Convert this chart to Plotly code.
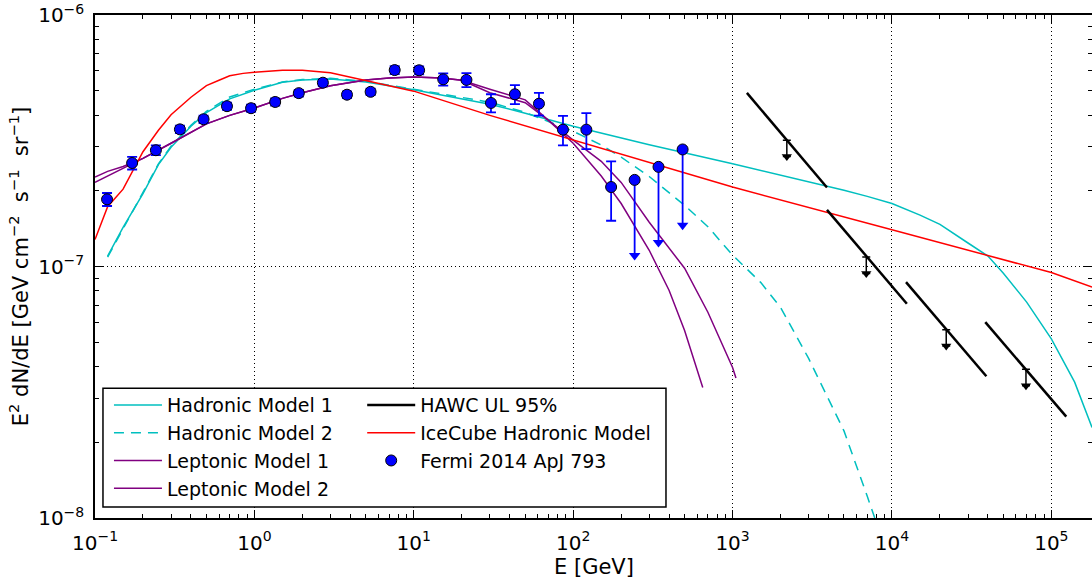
import plotly.graph_objects as go

# ---------------- data ----------------
fermi_E = [0.119, 0.171, 0.241, 0.341, 0.480, 0.673, 0.953, 1.35, 1.90, 2.69, 3.81,
           5.36, 7.59, 10.8, 15.3, 21.4, 30.5, 43.1, 61.0, 86.3, 121, 173]
fermi_F = [1.85e-7, 2.58e-7, 2.90e-7, 3.51e-7, 3.85e-7, 4.34e-7, 4.26e-7, 4.51e-7,
           4.89e-7, 5.38e-7, 4.82e-7, 4.95e-7, 6.04e-7, 6.03e-7, 5.55e-7, 5.52e-7,
           4.47e-7, 4.84e-7, 4.44e-7, 3.50e-7, 3.50e-7, 2.07e-7]
fermi_err = [0.11e-7, 0.15e-7, 0.13e-7, 0.12e-7, 0.13e-7, 0.14e-7, 0.14e-7, 0.15e-7,
             0.15e-7, 0.16e-7, 0.15e-7, 0.15e-7, 0.22e-7, 0.22e-7, 0.31e-7, 0.35e-7,
             0.37e-7, 0.42e-7, 0.46e-7, 0.47e-7, 0.57e-7, 0.55e-7]
fermi_ul_E = [243, 343, 486]
fermi_ul_F = [2.21e-7, 2.49e-7, 2.92e-7]

hawc_E = [2190, 6900, 21900, 69300]
hawc_F = [3.18e-7, 1.09e-7, 5.61e-8, 3.90e-8]
hawc_seg_E_start = [1230, 3910, 12250, 38500]
hawc_seg_E_end = [3910, 12400, 39100, 124000]
hawc_seg_F_start = [4.90e-7, 1.68e-7, 8.67e-8, 6.01e-8]
hawc_seg_F_end = [2.06e-7, 7.11e-8, 3.66e-8, 2.53e-8]

icecube_E = [0.1, 0.11, 0.12, 0.15, 0.2, 0.25, 0.3, 0.4, 0.5, 0.6, 0.7, 0.85, 1, 1.5,
             2, 3, 5, 10, 30, 100, 300, 1000, 1e4, 1e5, 1.8e5]
icecube_F = [1.28e-7, 1.50e-7, 1.73e-7, 2.03e-7, 2.86e-7, 3.48e-7, 4.01e-7, 4.71e-7,
             5.24e-7, 5.50e-7, 5.73e-7, 5.86e-7, 5.92e-7, 6.03e-7, 6.03e-7, 5.89e-7,
             5.50e-7, 4.98e-7, 3.99e-7, 3.18e-7, 2.60e-7, 2.07e-7, 1.40e-7, 9.46e-8,
             8.28e-8]

had1_E = [0.12, 0.15, 0.2, 0.25, 0.3, 0.4, 0.5, 0.7, 1, 1.5, 2, 3, 5, 10, 30, 50, 100,
          300, 1000, 2000, 3000, 5000, 7000, 1e4, 1.5e4, 2e4, 3e4, 4e4, 5e4, 7e4, 1e5,
          1.4e5, 1.8e5]
had1_F = [1.10e-7, 1.43e-7, 1.95e-7, 2.54e-7, 2.98e-7, 3.61e-7, 4.09e-7, 4.64e-7,
          5.02e-7, 5.40e-7, 5.52e-7, 5.57e-7, 5.42e-7, 5.04e-7, 4.42e-7, 4.07e-7,
          3.61e-7, 3.05e-7, 2.56e-7, 2.31e-7, 2.16e-7, 2.01e-7, 1.90e-7, 1.78e-7,
          1.60e-7, 1.47e-7, 1.24e-7, 1.10e-7, 9.40e-8, 7.22e-8, 5.16e-8, 3.47e-8,
          2.29e-8]

had2_E = [0.12, 0.15, 0.2, 0.25, 0.3, 0.4, 0.5, 0.7, 1, 1.5, 2, 3, 5, 10, 30, 50, 100,
          150, 200, 300, 500, 700, 1000, 1500, 2000, 3000, 5000, 7000, 7800]
had2_F = [1.09e-7, 1.42e-7, 1.97e-7, 2.56e-7, 3.01e-7, 3.64e-7, 4.14e-7, 4.72e-7,
          5.07e-7, 5.42e-7, 5.54e-7, 5.60e-7, 5.45e-7, 5.07e-7, 4.50e-7, 4.10e-7,
          3.45e-7, 3.04e-7, 2.72e-7, 2.28e-7, 1.75e-7, 1.44e-7, 1.11e-7, 8.65e-8,
          6.88e-8, 4.31e-8, 2.22e-8, 1.22e-8, 1.0e-8]

lep1_E = [0.1, 0.12, 0.15, 0.2, 0.3, 0.5, 0.7, 1, 1.5, 2, 3, 5, 7, 10, 15, 20, 30, 50,
          70, 100, 150, 200, 300, 500, 700, 1000, 1050]
lep1_F = [2.27e-7, 2.39e-7, 2.50e-7, 2.69e-7, 3.09e-7, 3.69e-7, 3.99e-7, 4.27e-7,
          4.66e-7, 4.91e-7, 5.23e-7, 5.52e-7, 5.62e-7, 5.67e-7, 5.62e-7, 5.50e-7,
          5.07e-7, 4.60e-7, 3.81e-7, 3.18e-7, 2.62e-7, 2.16e-7, 1.50e-7, 9.84e-8,
          6.58e-8, 3.97e-8, 3.60e-8]

lep2_E = [0.1, 0.12, 0.15, 0.2, 0.3, 0.5, 0.7, 1, 1.5, 2, 3, 5, 7, 10, 15, 20, 30, 50,
          70, 100, 150, 200, 300, 400, 500, 650]
lep2_F = [2.16e-7, 2.29e-7, 2.46e-7, 2.69e-7, 3.09e-7, 3.69e-7, 3.99e-7, 4.27e-7,
          4.66e-7, 4.91e-7, 5.23e-7, 5.52e-7, 5.62e-7, 5.67e-7, 5.62e-7, 5.50e-7,
          4.91e-7, 4.48e-7, 3.81e-7, 3.09e-7, 2.29e-7, 1.78e-7, 1.16e-7, 8.03e-8,
          5.57e-8, 3.30e-8]

x_tick_vals = [0.1, 1, 10, 100, 1000, 1e4, 1e5]
x_tick_text = ["10<sup>−1</sup>", "10<sup>0</sup>", "10<sup>1</sup>", "10<sup>2</sup>",
               "10<sup>3</sup>", "10<sup>4</sup>", "10<sup>5</sup>"]
y_tick_vals = [1e-8, 1e-7, 1e-6]
y_tick_text = ["10<sup>−8</sup>", "10<sup>−7</sup>", "10<sup>−6</sup>"]

# ---------------- styling ----------------
CYAN = "#00bfbf"
PURPLE = "#800080"
RED = "#ff0000"
BLUE = "#0000ff"
FONT = "DejaVu Sans"
UL_FERMI_FACTOR = 0.5     # arrow length of Fermi upper limits
UL_HAWC_FACTOR = 0.86     # arrow length of HAWC upper limits

fig = go.Figure()

def line_trace(x, y, name, color, dash="solid", legend="legend", width=1.5, rank=1):
    return go.Scatter(x=x, y=y, mode="lines", name=name, legend=legend,
                      legendgroup=name, legendrank=rank,
                      line=dict(color=color, width=width, dash=dash))

fig.add_trace(line_trace(had1_E, had1_F, "Hadronic Model 1", CYAN, rank=1))
fig.add_trace(line_trace(had2_E, had2_F, "Hadronic Model 2", CYAN, dash="10px,7px", rank=2))
fig.add_trace(line_trace(lep1_E, lep1_F, "Leptonic Model 1", PURPLE, rank=3))
fig.add_trace(line_trace(lep2_E, lep2_F, "Leptonic Model 2", PURPLE, rank=4))
fig.add_trace(line_trace(icecube_E, icecube_F, "IceCube Hadronic Model", RED,
                         legend="legend2", rank=2))

# HAWC segments
hx, hy = [], []
for xs, xe, ys, ye in zip(hawc_seg_E_start, hawc_seg_E_end, hawc_seg_F_start, hawc_seg_F_end):
    hx += [xs, xe, None]
    hy += [ys, ye, None]
fig.add_trace(go.Scatter(x=hx, y=hy, mode="lines", name="HAWC UL 95%", legend="legend2",
                         legendgroup="HAWC", legendrank=1,
                         line=dict(color="black", width=2.5)))
# HAWC upper-limit arrows
fig.add_trace(go.Scatter(
    x=hawc_E, y=hawc_F, mode="markers", showlegend=False, legend="legend2",
    marker=dict(size=1, color="black", opacity=0),
    error_y=dict(type="data", symmetric=False, array=[0] * len(hawc_F),
                 arrayminus=[f * (1 - UL_HAWC_FACTOR) for f in hawc_F],
                 color="black", thickness=1.5, width=4)))
fig.add_trace(go.Scatter(
    x=hawc_E, y=[f * UL_HAWC_FACTOR for f in hawc_F], mode="markers", showlegend=False,
    legend="legend2",
    marker=dict(symbol="triangle-down", size=9, color="black", line=dict(width=0))))

# Fermi upper limits
fig.add_trace(go.Scatter(
    x=fermi_ul_E, y=fermi_ul_F, mode="markers", showlegend=False, legend="legend2",
    marker=dict(size=11, color=BLUE, line=dict(color="black", width=1)),
    error_y=dict(type="data", symmetric=False, array=[0] * len(fermi_ul_F),
                 arrayminus=[f * (1 - UL_FERMI_FACTOR) for f in fermi_ul_F],
                 color=BLUE, thickness=1.8, width=0)))
fig.add_trace(go.Scatter(
    x=fermi_ul_E, y=[f * UL_FERMI_FACTOR for f in fermi_ul_F], mode="markers",
    showlegend=False, legend="legend2",
    marker=dict(symbol="triangle-down", size=10, color=BLUE, line=dict(width=0))))

# Fermi points
fig.add_trace(go.Scatter(
    x=fermi_E, y=fermi_F, mode="markers", name="Fermi 2014 ApJ 793", legend="legend2",
    legendgroup="Fermi", legendrank=3,
    marker=dict(size=11, color=BLUE, line=dict(color="black", width=1)),
    error_y=dict(type="data", array=fermi_err, color=BLUE, thickness=1.8, width=5)))

x_minor = [m * 10 ** d for d in range(-1, 6) for m in range(2, 10)]
y_minor = [m * 10 ** d for d in range(-8, -6) for m in range(2, 10)]

axis_common = dict(
    type="log", showline=True, linecolor="black", linewidth=1.5, mirror="allticks",
    ticks="inside", ticklen=8, tickwidth=1, tickcolor="black",
    showgrid=True, gridcolor="black", gridwidth=1, griddash="1px,3px",
    zeroline=False, tickfont=dict(family=FONT, size=20, color="black"),
    tickmode="array",
)

fig.update_xaxes(
    **axis_common, range=[-1, 5.255], tickvals=x_tick_vals, ticktext=x_tick_text,
    ticklabelstandoff=6,
    minor=dict(tickmode="array", tickvals=x_minor, ticks="inside", ticklen=4,
               tickcolor="black", tickwidth=1, showgrid=False),
)
fig.update_yaxes(
    **axis_common, range=[-8, -6], tickvals=y_tick_vals, ticktext=y_tick_text,
    ticklabelstandoff=5,
    minor=dict(tickmode="array", tickvals=y_minor, ticks="inside", ticklen=4,
               tickcolor="black", tickwidth=1, showgrid=False),
    title=dict(text="E<sup>2</sup>\u00a0dN/dE\u00a0[GeV\u00a0cm<sup>−2</sup>\u00a0\u00a0s<sup>−1</sup>\u00a0\u00a0sr<sup>−1</sup>]",
               font=dict(family=FONT, size=21, color="black"), standoff=4),
)

# x-axis title placed as an annotation for exact vertical position
fig.add_annotation(text="E [GeV]", xref="paper", yref="paper", x=0.5, y=-0.097,
                   xanchor="center", yanchor="middle", showarrow=False,
                   font=dict(family=FONT, size=21, color="black"))

legend_common = dict(
    bgcolor="rgba(0,0,0,0)", borderwidth=0, font=dict(family=FONT, size=19, color="black"),
    xanchor="left", yanchor="top", tracegroupgap=0, orientation="v", itemwidth=48,
)
fig.update_layout(
    legend=dict(**legend_common, x=0.014, y=0.262),
    legend2=dict(**legend_common, x=0.268, y=0.262),
)

# legend frame (white box with black border)
fig.add_shape(type="rect", xref="paper", yref="paper", x0=0.008, x1=0.5727,
              y0=0.0219, y1=0.258, line=dict(color="black", width=1.5),
              fillcolor="white", layer="above")

fig.update_layout(
    width=1092, height=581,
    margin=dict(l=95, r=0, t=15, b=63, autoexpand=False),
    plot_bgcolor="white", paper_bgcolor="white",
    font=dict(family=FONT, color="black"),
)

fig.write_html("out.html")
